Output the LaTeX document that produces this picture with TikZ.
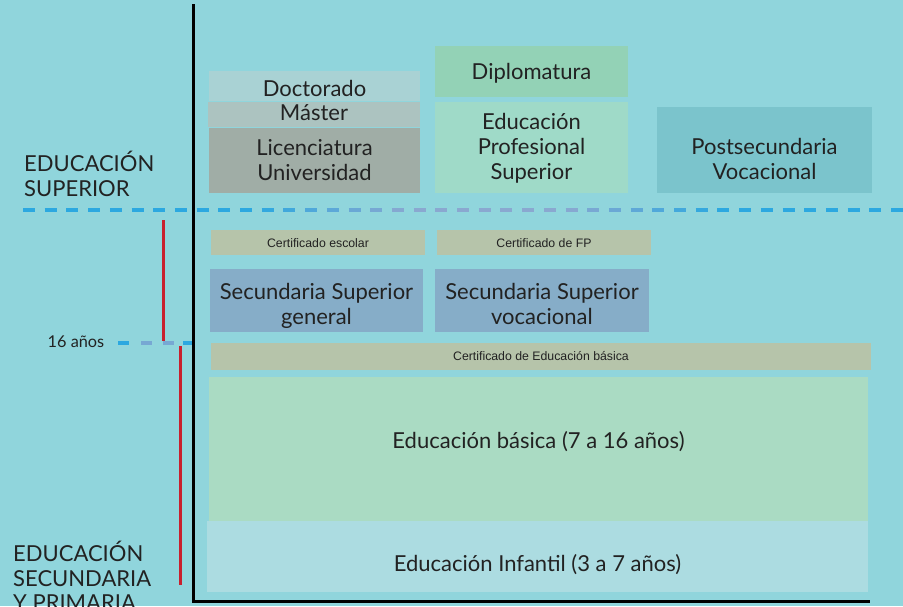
\documentclass[tikz,border=0pt]{standalone}
\usepackage{fontspec}
\setmainfont{Lato}
\newfontfamily\certfont{Liberation Sans}
\usetikzlibrary{positioning}
\definecolor{bgc}{HTML}{90D5DC}
\definecolor{txt}{HTML}{222222}
\definecolor{doctc}{HTML}{A9D2D4}
\definecolor{mastc}{HTML}{ACC3C0}
\definecolor{licc}{HTML}{A0ADA6}
\definecolor{diplc}{HTML}{93D2B6}
\definecolor{epsc}{HTML}{9FDAC8}
\definecolor{postc}{HTML}{7BC4CC}
\definecolor{certc}{HTML}{B6C4AA}
\definecolor{secc}{HTML}{86ADC8}
\definecolor{basc}{HTML}{AADBC3}
\definecolor{infc}{HTML}{ACDCE1}
\definecolor{dashblue}{HTML}{2CA8E0}
\definecolor{dashlila}{HTML}{8AA8D0}
\definecolor{redline}{HTML}{C8202E}
\tikzstyle{box}=[inner sep=0pt,align=center,text=txt,font=\fontsize{22}{25}\selectfont]
\tikzstyle{cert}=[box,fill=certc,font=\certfont\fontsize{12.3}{14}\selectfont]
\tikzstyle{lbl}=[inner sep=0pt,align=left,text=txt,font=\fontsize{22}{24.5}\selectfont]
% move the text of a box up or down, the box stays put
\newcommand{\txtshift}[2]{\raisebox{#1}[\height][\depth]{\begin{tabular}{@{}c@{}}#2\end{tabular}}}

\begin{document}
\begin{tikzpicture}[x=1pt,y=-1pt]
    \fill[bgc] (0,0) rectangle (903,606);
    \useasboundingbox (0,0) rectangle (903,606);
%   higher education
    \node[box,fill=doctc,minimum width=211,minimum height=30] (doct) at (314.5,86) {\txtshift{-5pt}{Doctorado}};
    \node[box,fill=mastc,minimum width=212,minimum height=24] (mast) at (314,114) {\txtshift{-1pt}{Máster}};
    \node[box,fill=licc,minimum width=211,minimum height=65] (lic) at (314.5,160.5) {Licenciatura\\Universidad};
    \node[box,fill=diplc,minimum width=193,minimum height=51] (dipl) at (531.5,71.5) {\txtshift{-3pt}{Diplomatura}};
    \node[box,fill=epsc,minimum width=193,minimum height=91] (eps) at (531.5,147.5) {\txtshift{-2pt}{Educación\\Profesional\\Superior}};
    \node[box,fill=postc,minimum width=215,minimum height=86] (postsec) at (764.5,150) {\txtshift{-11.5pt}{Postsecundaria\\Vocacional}};
%   secondary
    \node[cert,minimum width=214,minimum height=25] (certesc) at (318,242.5) {\txtshift{-2pt}{Certificado escolar}};
    \node[cert,minimum width=214,minimum height=25] (certfp) at (544,242.5) {\txtshift{-2pt}{Certificado de FP}};
    \node[box,fill=secc,minimum width=213,minimum height=63] (secgen) at (316.5,300.5) {\txtshift{-6.5pt}{Secundaria Superior\\general}};
    \node[box,fill=secc,minimum width=214,minimum height=63] (secvoc) at (542,300.5) {\txtshift{-6.5pt}{Secundaria Superior\\vocacional}};
    \node[cert,minimum width=660,minimum height=27] (certbas) at (541,356.5) {Certificado de Educación básica};
    \node[box,fill=basc,minimum width=659,minimum height=144] (basica) at (538.5,449) {\txtshift{6pt}{Educación básica (7 a 16 años)}};
    \node[box,fill=infc,minimum width=661,minimum height=71] (infantil) at (537.5,556.5) {\txtshift{-9.5pt}{Educación Infantil (3 a 7 años)}};
%   labels on the left
    \node[lbl,anchor=west] (lblsup) at (24,174) {EDUCACIÓN\\SUPERIOR};
    \node[lbl,anchor=west] (lblsec) at (13,576) {EDUCACIÓN\\SECUNDARIA\\Y PRIMARIA};
    \node[box,font=\fontsize{16.3}{18}\selectfont] (lbl16) at (76,342) {16 años};
%   dashed separator, blue fading to lilac in the middle
    \foreach \k in {0,...,40}{
        \pgfmathsetmacro\xa{23+\k*21.7}
        \pgfmathsetmacro\p{min(100,max(0,abs(\xa-480)-80)/1.5)}
        \draw[line width=4pt,dashblue!\p!dashlila] (\xa,210) -- ++(12,0);
    }
%   dashes at 16 years
    \foreach \xa/\p in {118/100,141/20,163/20,183/100}
        \draw[line width=4pt,dashblue!\p!dashlila] (\xa,343) -- ++(11,0);
%   red brackets
    \coordinate (r0) at (163,220);
    \coordinate (r1) at (163,341);
    \coordinate (r2) at (180,346);
    \coordinate (r3) at (180,585);
    \draw[redline,line width=3pt] (r0) -- (r1);
    \draw[redline,line width=3pt] (r2) -- (r3);
%   axes
    \coordinate (o) at (193,601);
    \coordinate (top) at (193,4);
    \coordinate (right) at (870,601);
    \draw[black,line width=3pt] (top) -- (o) -- (right);
\end{tikzpicture}
\end{document}
